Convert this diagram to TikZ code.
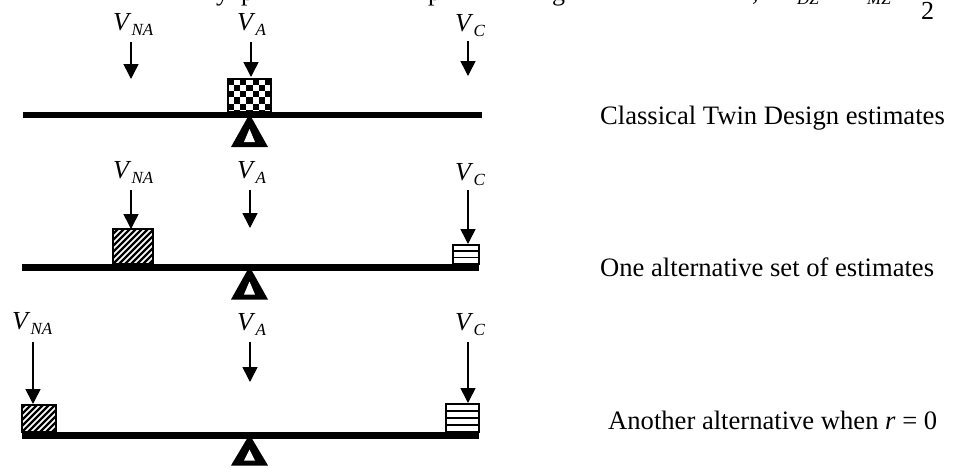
\documentclass[tikz,border=0pt]{standalone}
\usepackage{fontspec}
\setmainfont{Liberation Serif}
\usetikzlibrary{arrows.meta}
\tikzset{
  beam/.style={line width=6.5pt},
  downarrow/.style={line width=1.6pt,-{Triangle[width=15pt,length=15pt]}},
  lbl/.style={anchor=base west,inner sep=0pt,font=\fontsize{26}{30}\selectfont},
  txt/.style={anchor=base west,inner sep=0pt,font=\fontsize{26.6}{30}\selectfont},
  frag/.style={anchor=base west,inner sep=0pt,font=\fontsize{26}{30}\selectfont},
  boxline/.style={line width=1.1pt},
}
\newcommand\vlab[1]{\textit{V}\raisebox{-5pt}{\fontsize{17}{17}\selectfont\textit{#1}}}
\newcommand\fulcrum[3]{%
  \fill ({#1},{#2-1}) -- ({#1+18.5},{#2+#3}) -- ({#1-18.5},{#2+#3}) -- cycle;
  \fill[white] ({#1},{#2+14}) -- ({#1+5.5},{#2+#3-5}) -- ({#1-5.5},{#2+#3-5}) -- cycle;}
\newcommand\hatchbox[4]{%
  \begin{scope}
    \clip (#1,#2) rectangle (#3,#4);
    \foreach \k in {-60,-54,...,60} \draw[line width=2.2pt] ({#1+\k},#4) -- ++(60,-60);
  \end{scope}
  \draw[boxline] (#1,#2) rectangle (#3,#4);}
\begin{document}
\begin{tikzpicture}[x=1pt,y=-1pt]
\fill[white] (0,0) rectangle (954,467);
\useasboundingbox (0,0) rectangle (954,467);
\begin{scope}
\clip (0,0) rectangle (954,467);
% clipped fragments of the text line above
\node[frag] (f1) at (216,0) {y};
\node[frag] (f2) at (241,0) {p};
\node[frag] (f3) at (428,0) {p};
\node[frag] (f4) at (552,0) {g};
\node[frag] (f5) at (752,0) {,};
\node[anchor=base west,inner sep=0pt,font=\fontsize{17}{17}\selectfont\itshape] (f6) at (797,4) {DZ};
\node[anchor=base west,inner sep=0pt,font=\fontsize{17}{17}\selectfont\itshape] (f7) at (867,4) {MZ};
\node[frag] (f8) at (921,19) {2};
\end{scope}

% ---------- row 1 ----------
\node[lbl] (na1) at (113,30) {\vlab{NA}};
\node[lbl] (va1) at (237,30) {\vlab{A}};
\node[lbl] (vc1) at (455,31) {\vlab{C}};
\coordinate (na1s) at (131,42); \coordinate (na1e) at (131,79);
\coordinate (va1s) at (251,42); \coordinate (va1e) at (251,77);
\coordinate (vc1s) at (468,41); \coordinate (vc1e) at (468,76);
\draw[downarrow] (na1s) -- (na1e);
\draw[downarrow] (va1s) -- (va1e);
\draw[downarrow] (vc1s) -- (vc1e);
% checkerboard box
\begin{scope}
  \clip (228,79) rectangle (271,112);
  \foreach \i in {0,...,7}
    \foreach \j in {0,...,5} {
      \pgfmathparse{int(mod(\i+\j,2))}
      \ifnum\pgfmathresult=0
        \fill ({228+\i*6.14},{79+\j*6.14}) rectangle ++(6.14,6.14);
      \fi
    }
\end{scope}
\draw[boxline] (228,79) rectangle (271,112);
\coordinate (b1l) at (23,115); \coordinate (b1r) at (482,115);
\draw[beam] (b1l) -- (b1r);
\fulcrum{249.5}{115}{32}
\node[txt] (t1) at (600,124) {Classical Twin Design estimates};

% ---------- row 2 ----------
\node[lbl] (na2) at (113,178) {\vlab{NA}};
\node[lbl] (va2) at (237,178) {\vlab{A}};
\node[lbl] (vc2) at (455,180) {\vlab{C}};
\coordinate (na2s) at (131,190); \coordinate (na2e) at (131,229);
\coordinate (va2s) at (250,190); \coordinate (va2e) at (250,228);
\coordinate (vc2s) at (468,190); \coordinate (vc2e) at (468,244);
\draw[downarrow] (na2s) -- (na2e);
\draw[downarrow] (va2s) -- (va2e);
\draw[downarrow] (vc2s) -- (vc2e);
\hatchbox{113}{229}{153}{264}
\draw[boxline] (453,245) rectangle (479,264);
\draw[boxline] (453,251) -- (479,251);
\draw[boxline] (453,257.5) -- (479,257.5);
\coordinate (b2l) at (22,267.5); \coordinate (b2r) at (479,267.5);
\draw[beam] (b2l) -- (b2r);
\fulcrum{249.5}{267.5}{32}
\node[txt] (t2) at (600,276) {One alternative set of estimates};

% ---------- row 3 ----------
\node[lbl] (na3) at (12,329) {\vlab{NA}};
\node[lbl] (va3) at (237,330) {\vlab{A}};
\node[lbl] (vc3) at (455,330) {\vlab{C}};
\coordinate (na3s) at (33,342); \coordinate (na3e) at (33,404);
\coordinate (va3s) at (250,342); \coordinate (va3e) at (250,382);
\coordinate (vc3s) at (468,342); \coordinate (vc3e) at (468,403);
\draw[downarrow] (na3s) -- (na3e);
\draw[downarrow] (va3s) -- (va3e);
\draw[downarrow] (vc3s) -- (vc3e);
\hatchbox{22}{405}{56}{432}
\draw[boxline] (446,404) rectangle (479,432);
\draw[boxline] (446,411) -- (479,411);
\draw[boxline] (446,418) -- (479,418);
\draw[boxline] (446,425) -- (479,425);
\coordinate (b3l) at (22,435.5); \coordinate (b3r) at (479,435.5);
\draw[beam] (b3l) -- (b3r);
\fulcrum{249.5}{435.5}{30}
\node[txt] (t3) at (608,429) {Another alternative when \textit{r} = 0};
\end{tikzpicture}
\end{document}
